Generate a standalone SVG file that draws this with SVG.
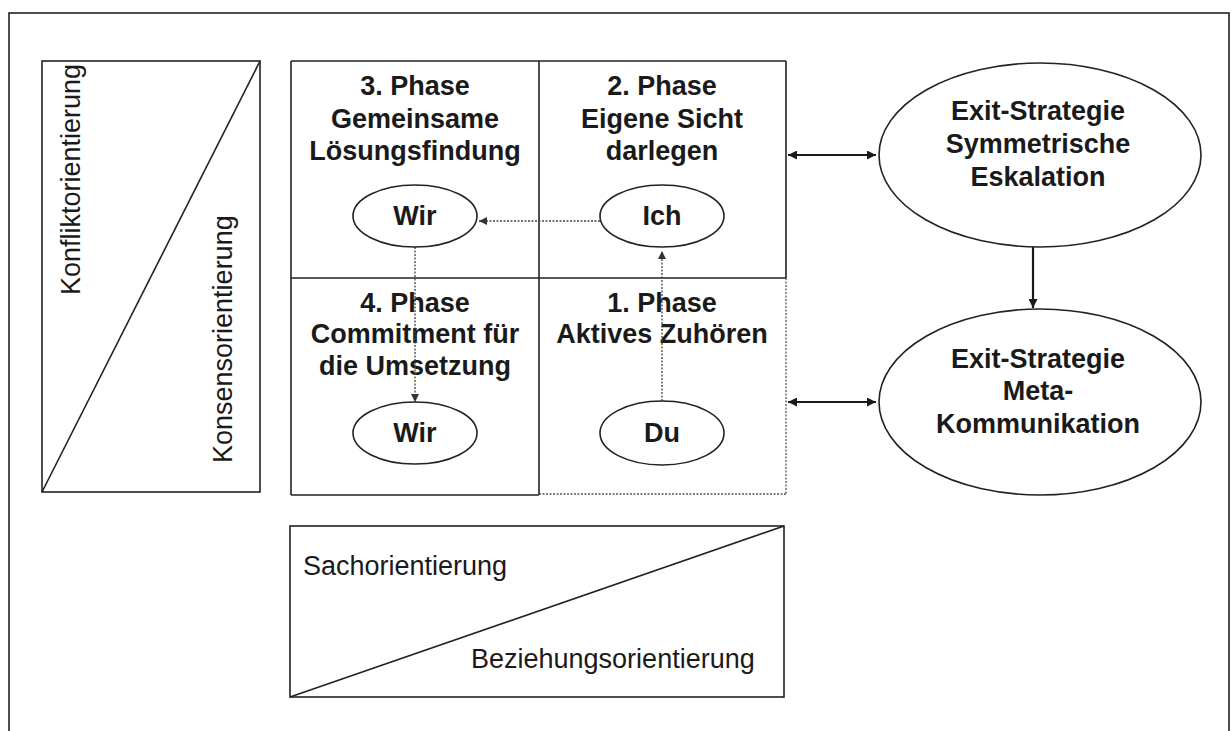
<svg xmlns="http://www.w3.org/2000/svg" width="1231" height="731" viewBox="0 0 1231 731">
<defs>
<marker id="ah" viewBox="0 0 10 10" refX="10" refY="5" markerWidth="10" markerHeight="9" markerUnits="userSpaceOnUse" orient="auto-start-reverse">
<path d="M0,0 L10,5 L0,10 Z" fill="#1a1a1a"/>
</marker>
<marker id="ahs" viewBox="0 0 10 10" refX="10" refY="5" markerWidth="9" markerHeight="8" markerUnits="userSpaceOnUse" orient="auto">
<path d="M0,0 L10,5 L0,10 Z" fill="#333"/>
</marker>
<style>
.ln{stroke:#222;stroke-width:1.6;fill:none}
.dl{stroke:#555;stroke-width:1.3;fill:none;stroke-dasharray:2 1.5}
.reg{font-family:"Liberation Sans",Arial,sans-serif;font-size:27px;fill:#1a1a1a}
.b{font-family:"Liberation Sans",Arial,sans-serif;font-size:27px;font-weight:bold;fill:#1a1a1a;text-anchor:middle}
.ell{fill:#fff;stroke:#222;stroke-width:1.6}
.con{stroke:#1a1a1a;stroke-width:2.2;fill:none}
.dcon{stroke:#444;stroke-width:1.3;fill:none;stroke-dasharray:2 1.5}
</style>
</defs>
<rect width="1231" height="731" fill="#fff"/>
<rect x="9" y="13" width="1220" height="740" class="ln"/>

<g id="left-box">
<rect x="42" y="61" width="218" height="431" class="ln"/>
<line x1="42" y1="492" x2="260" y2="61" class="ln"/>
<text class="reg" transform="translate(80,295) rotate(-90)">Konfliktorientierung</text>
<text class="reg" transform="translate(232,463) rotate(-90)">Konsensorientierung</text>
</g>

<g id="grid">
<line x1="291" y1="61" x2="786" y2="61" class="ln"/>
<line x1="291" y1="61" x2="291" y2="495" class="ln"/>
<line x1="291" y1="495" x2="539" y2="495" class="ln"/>
<line x1="786" y1="61" x2="786" y2="278" class="ln"/>
<line x1="291" y1="278" x2="786" y2="278" class="ln"/>
<line x1="539" y1="61" x2="539" y2="495" class="ln" stroke-width="1.3"/>
<line x1="539" y1="494" x2="786" y2="494" class="dl"/>
<line x1="786" y1="278" x2="786" y2="494" class="dl"/>
</g>

<g id="phase3">
<text class="b" x="415" y="95">3. Phase</text>
<text class="b" x="415" y="128">Gemeinsame</text>
<text class="b" x="415" y="160">Lösungsfindung</text>
</g>
<g id="phase2">
<text class="b" x="662" y="95">2. Phase</text>
<text class="b" x="662" y="128">Eigene Sicht</text>
<text class="b" x="662" y="160">darlegen</text>
</g>
<g id="phase4">
<text class="b" x="415" y="312">4. Phase</text>
<text class="b" x="415" y="343">Commitment für</text>
<text class="b" x="415" y="375">die Umsetzung</text>
</g>
<g id="phase1">
<text class="b" x="662" y="312">1. Phase</text>
<text class="b" x="662" y="343">Aktives Zuhören</text>
</g>

<g id="connectors">
<line x1="600" y1="221" x2="479" y2="221" class="dcon" marker-end="url(#ahs)"/>
<line x1="415" y1="247" x2="415" y2="402" class="dcon" marker-end="url(#ahs)"/>
<line x1="662" y1="401" x2="662" y2="251" class="dcon" marker-end="url(#ahs)"/>
<line x1="788" y1="155" x2="876" y2="155" class="con" marker-start="url(#ah)" marker-end="url(#ah)"/>
<line x1="788" y1="402" x2="876" y2="402" class="con" marker-start="url(#ah)" marker-end="url(#ah)"/>
<line x1="1033" y1="247" x2="1033" y2="308" class="con" marker-end="url(#ah)"/>
</g>

<g id="wir-top">
<ellipse cx="415" cy="216" rx="62" ry="31" class="ell"/>
<text class="b" x="415" y="225">Wir</text>
</g>
<g id="ich">
<ellipse cx="662" cy="216" rx="62" ry="31" class="ell"/>
<text class="b" x="662" y="225">Ich</text>
</g>
<g id="wir-bottom">
<ellipse cx="415" cy="433" rx="62" ry="31" class="ell"/>
<text class="b" x="415" y="442">Wir</text>
</g>
<g id="du">
<ellipse cx="662" cy="433" rx="62" ry="32" class="ell"/>
<text class="b" x="662" y="442">Du</text>
</g>

<g id="exit-eskalation">
<ellipse cx="1040" cy="155" rx="161" ry="92" class="ell"/>
<text class="b" x="1038" y="120">Exit-Strategie</text>
<text class="b" x="1038" y="153">Symmetrische</text>
<text class="b" x="1038" y="186">Eskalation</text>
</g>
<g id="exit-meta">
<ellipse cx="1040" cy="402" rx="161" ry="93" class="ell"/>
<text class="b" x="1038" y="368">Exit-Strategie</text>
<text class="b" x="1038" y="400">Meta-</text>
<text class="b" x="1038" y="433">Kommunikation</text>
</g>

<g id="bottom-box">
<rect x="290" y="526" width="494" height="171" class="ln"/>
<line x1="290" y1="697" x2="784" y2="526" class="ln"/>
<text class="reg" x="303" y="575">Sachorientierung</text>
<text class="reg" x="471" y="668">Beziehungsorientierung</text>
</g>
</svg>
